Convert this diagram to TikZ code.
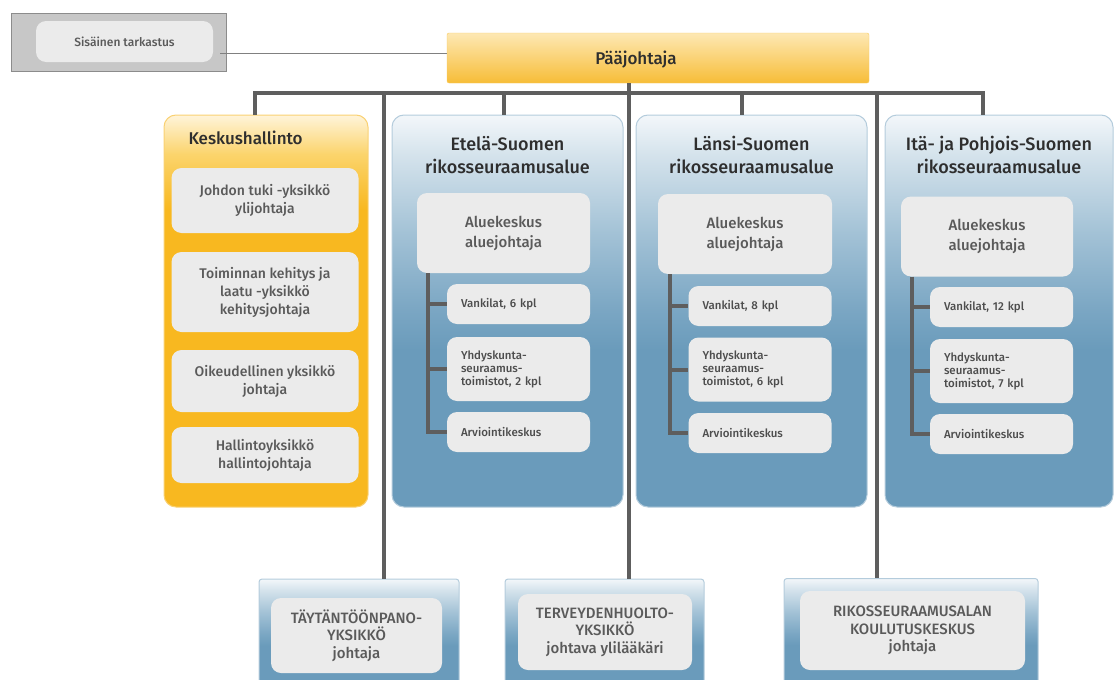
\documentclass[tikz,border=0pt]{standalone}
\usepackage{fontspec}
\setmainfont{Fira Sans}[UprightFont={* Medium}]
\definecolor{conngray}{HTML}{5E5E5E}
\definecolor{graybox}{HTML}{EBEBEB}
\definecolor{graytext}{HTML}{5A5A5A}
\definecolor{darktext}{HTML}{2E2E2E}
\definecolor{orlight}{HTML}{FDE8B4}
\definecolor{ordark}{HTML}{F7BD37}
\definecolor{keslight}{HTML}{FFF4DA}
\definecolor{kesmid}{HTML}{FBD46C}
\definecolor{kesdark}{HTML}{F8B820}
\definecolor{blulight}{HTML}{F3F7FA}
\definecolor{blu1}{HTML}{D5E3EC}
\definecolor{blumid}{HTML}{A3C2D6}
\definecolor{blu3}{HTML}{7AA6C3}
\definecolor{bludark}{HTML}{6A9BBB}
\definecolor{bluline}{HTML}{B4CCDC}
\pgfdeclareverticalshading{kesshade}{100bp}{color(0bp)=(kesdark); color(25bp)=(kesdark);
  color(63bp)=(kesdark); color(70bp)=(kesmid); color(75bp)=(keslight); color(100bp)=(keslight)}
\pgfdeclareverticalshading{blushade}{100bp}{color(0bp)=(bludark); color(25bp)=(bludark);
  color(45bp)=(bludark); color(50bp)=(blu3); color(60bp)=(blumid); color(70bp)=(blu1);
  color(75bp)=(blulight); color(100bp)=(blulight)}
\tikzset{
  conn/.style={draw=conngray, line width=4.5pt},
  tree/.style={draw=conngray, line width=4pt},
  inbox/.style={fill=graybox, rounded corners=10pt, text=graytext, align=center, inner sep=0pt},
  khitem/.style={minimum width=187pt, font=\fontsize{14}{18}\selectfont},
  aebox/.style={minimum height=80pt, font=\fontsize{15}{20}\selectfont},
  subbox/.style={minimum width=143pt, text width=115pt, align=left, minimum height=40pt,
    text=darktext!85, font=\fontsize{11.5}{13}\selectfont},
  botin/.style={font=\fontsize{15}{17.5}\selectfont},
  regbox/.style={draw=bluline, line width=1pt, shading=blushade, shading angle=0,
    rounded corners=12pt, minimum width=231pt, minimum height=392pt},
  botbox/.style={draw=bluline, line width=1pt, shading=blushade, shading angle=0,
    rounded corners=3pt, minimum height=111pt},
  kesbox/.style={draw=ordark!70, line width=1pt, shading=kesshade, shading angle=0,
    rounded corners=12pt},
  title/.style={text=darktext, align=center, font=\fontsize{18}{23}\selectfont}
}
\begin{document}
\begin{tikzpicture}[x=1pt,y=-1pt]
\useasboundingbox (0,0) rectangle (1114,680);
\clip (0,0) rectangle (1114,680);
% top row
\node[fill=black!22, draw=black!45, line width=1pt, minimum width=215pt, minimum height=58pt] (sis) at (118.5,42) {};
\node[inbox, minimum width=177pt, minimum height=41pt, font=\fontsize{12}{14}\selectfont] (sisin) at (124.5,41.5) {Sisäinen tarkastus};
\node[top color=orlight, bottom color=ordark, draw=ordark!80, rounded corners=2pt,
  minimum width=422pt, minimum height=50pt] (pj) at (658,58) {};
\node[text=darktext, font=\fontsize{17}{20}\selectfont] (pjtext) at (636,60) {Pääjohtaja};
% Keskushallinto
\node[kesbox, minimum width=204pt, minimum height=392pt] (kh) at (266,311) {};
\node[title, anchor=west, font=\fontsize{17}{20}\selectfont] (khtitle) at (185,138) {Keskushallinto};
\node[inbox, khitem, minimum height=65pt] (kh1) at (265,200.5) {Johdon tuki -yksikkö\\ylijohtaja};
\node[inbox, khitem, minimum height=80pt] (kh2) at (265,292) {Toiminnan kehitys ja\\laatu -yksikkö\\kehitysjohtaja};
\node[inbox, khitem, minimum height=62pt] (kh3) at (265,381) {Oikeudellinen yksikkö\\johtaja};
\node[inbox, khitem, minimum height=56pt] (kh4) at (265,455) {Hallintoyksikkö\\hallintojohtaja};
% Etela-Suomi
\node[regbox] (et) at (507.5,311) {};
\node[title] (ettitle) at (507.5,155) {Etelä-Suomen\\rikosseuraamusalue};
\node[inbox, aebox, minimum width=173pt] (et0) at (503.5,233) {Aluekeskus\\aluejohtaja};
\node[inbox, subbox] (et1) at (518.5,304) {Vankilat, 6 kpl};
\node[inbox, subbox, minimum height=64pt] (et2) at (518.5,369) {Yhdyskunta-\\seuraamus-\\toimistot, 2 kpl};
\node[inbox, subbox] (et3) at (518.5,432) {Arviointikeskus};
\coordinate (ett) at ([xshift=11pt]et0.south west);
\draw[tree] (ett) |- (et3.west);
\draw[tree] (ett |- et1.west) -- (et1.west);
\draw[tree] (ett |- et2.west) -- (et2.west);
% Lansi-Suomi
\node[regbox] (la) at (751.5,311) {};
\node[title] (latitle) at (751.5,155) {Länsi-Suomen\\rikosseuraamusalue};
\node[inbox, aebox, minimum width=174pt] (la0) at (745,234) {Aluekeskus\\aluejohtaja};
\node[inbox, subbox] (la1) at (760,306) {Vankilat, 8 kpl};
\node[inbox, subbox, minimum height=64pt] (la2) at (760,369.5) {Yhdyskunta-\\seuraamus-\\toimistot, 6 kpl};
\node[inbox, subbox] (la3) at (760,433) {Arviointikeskus};
\coordinate (lat) at ([xshift=12pt]la0.south west);
\draw[tree] (lat) |- (la3.west);
\draw[tree] (lat |- la1.west) -- (la1.west);
\draw[tree] (lat |- la2.west) -- (la2.west);
% Ita- ja Pohjois-Suomi
\node[regbox, minimum width=228pt] (it) at (999,311) {};
\node[title] (ittitle) at (999,155) {Itä- ja Pohjois-Suomen\\rikosseuraamusalue};
\node[inbox, aebox, minimum width=172pt] (it0) at (987,236.5) {Aluekeskus\\aluejohtaja};
\node[inbox, subbox] (it1) at (1001.5,307) {Vankilat, 12 kpl};
\node[inbox, subbox, minimum height=64pt] (it2) at (1001.5,371) {Yhdyskunta-\\seuraamus-\\toimistot, 7 kpl};
\node[inbox, subbox] (it3) at (1001.5,434) {Arviointikeskus};
\coordinate (itt) at ([xshift=11pt]it0.south west);
\draw[tree] (itt) |- (it3.west);
\draw[tree] (itt |- it1.west) -- (it1.west);
\draw[tree] (itt |- it2.west) -- (it2.west);
% bottom row
\node[botbox, minimum width=200pt] (tp) at (359,634.5) {};
\node[inbox, botin, minimum width=171pt, minimum height=75pt] (tpin) at (356.5,635.5) {TÄYTÄNTÖÖNPANO-\\YKSIKKÖ\\johtaja};
\node[botbox, minimum width=199pt] (tv) at (604.5,634.5) {};
\node[inbox, botin, minimum width=174pt, minimum height=76pt] (tvin) at (605,632) {TERVEYDENHUOLTO-\\YKSIKKÖ\\johtava ylilääkäri};
\node[botbox, minimum width=254pt] (kk) at (911,634) {};
\node[inbox, botin, minimum width=225pt, minimum height=79pt] (kkin) at (912.5,630.5) {RIKOSSEURAAMUSALAN\\KOULUTUSKESKUS\\johtaja};
% connectors
\coordinate (b1) at (255,93);
\coordinate (b2) at (384,93);
\coordinate (b3) at (504,93);
\coordinate (b4) at (629,93);
\coordinate (b5) at (742,93);
\coordinate (b6) at (877,93);
\coordinate (b7) at (983,93);
\draw[black!50, line width=1pt] ([yshift=5pt]pj.west) -- ([yshift=5pt,xshift=7pt]pj.west -| sisin.east);
\draw[conn] (b1 |- kh.north) -- (b1) -- (b7) -- (b7 |- it.north);
\draw[conn] (b4 |- pj.south) -- (b4 |- tv.north);
\draw[conn] (b2) -- (b2 |- tp.north);
\draw[conn] (b6) -- (b6 |- kk.north);
\draw[conn] (b3) -- (b3 |- et.north);
\draw[conn] (b5) -- (b5 |- la.north);
\end{tikzpicture}
\end{document}
